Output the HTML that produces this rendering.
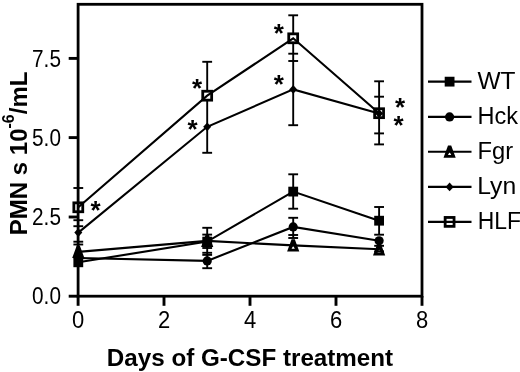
<!DOCTYPE html>
<html><head><meta charset="utf-8"><title>PMN counts during G-CSF treatment</title>
<style>html,body{margin:0;padding:0;background:#fff}svg{display:block;filter:grayscale(1)}</style></head>
<body>
<svg width="520" height="372" viewBox="0 0 520 372">
<rect x="0" y="0" width="520" height="372" fill="#fff"/>
<g id="err">
<line x1="73.4" y1="188" x2="83.2" y2="188" stroke="#000" stroke-width="1.9"/>
<line x1="73.4" y1="220.2" x2="83.2" y2="220.2" stroke="#000" stroke-width="1.9"/>
<line x1="73.4" y1="226.2" x2="83.2" y2="226.2" stroke="#000" stroke-width="1.9"/>
<line x1="73.4" y1="241.7" x2="83.2" y2="241.7" stroke="#000" stroke-width="1.9"/>
<line x1="73.4" y1="244.5" x2="83.2" y2="244.5" stroke="#000" stroke-width="1.9"/>
<line x1="207.2" y1="61.8" x2="207.2" y2="90.5" stroke="#000" stroke-width="1.9"/>
<line x1="207.2" y1="101" x2="207.2" y2="152.8" stroke="#000" stroke-width="1.9"/>
<line x1="202.3" y1="61.8" x2="212.1" y2="61.8" stroke="#000" stroke-width="1.9"/>
<line x1="202.3" y1="152.8" x2="212.1" y2="152.8" stroke="#000" stroke-width="1.9"/>
<line x1="207.2" y1="227.8" x2="207.2" y2="268.2" stroke="#000" stroke-width="1.9"/>
<line x1="202.3" y1="227.8" x2="212.1" y2="227.8" stroke="#000" stroke-width="1.9"/>
<line x1="202.3" y1="234.6" x2="212.1" y2="234.6" stroke="#000" stroke-width="1.9"/>
<line x1="202.3" y1="248" x2="212.1" y2="248" stroke="#000" stroke-width="1.9"/>
<line x1="202.3" y1="252.8" x2="212.1" y2="252.8" stroke="#000" stroke-width="1.9"/>
<line x1="202.3" y1="254.9" x2="212.1" y2="254.9" stroke="#000" stroke-width="1.9"/>
<line x1="202.3" y1="268.2" x2="212.1" y2="268.2" stroke="#000" stroke-width="1.9"/>
<line x1="293.2" y1="15.3" x2="293.2" y2="33" stroke="#000" stroke-width="1.9"/>
<line x1="293.2" y1="43.6" x2="293.2" y2="125.2" stroke="#000" stroke-width="1.9"/>
<line x1="288.3" y1="15.3" x2="298.1" y2="15.3" stroke="#000" stroke-width="1.9"/>
<line x1="288.3" y1="53.7" x2="298.1" y2="53.7" stroke="#000" stroke-width="1.9"/>
<line x1="288.3" y1="61" x2="298.1" y2="61" stroke="#000" stroke-width="1.9"/>
<line x1="288.3" y1="125.2" x2="298.1" y2="125.2" stroke="#000" stroke-width="1.9"/>
<line x1="293.2" y1="174.3" x2="293.2" y2="208.7" stroke="#000" stroke-width="1.9"/>
<line x1="293.2" y1="217.8" x2="293.2" y2="238.0" stroke="#000" stroke-width="1.9"/>
<line x1="288.3" y1="174.3" x2="298.1" y2="174.3" stroke="#000" stroke-width="1.9"/>
<line x1="288.3" y1="208.7" x2="298.1" y2="208.7" stroke="#000" stroke-width="1.9"/>
<line x1="288.3" y1="217.8" x2="298.1" y2="217.8" stroke="#000" stroke-width="1.9"/>
<line x1="288.3" y1="235.0" x2="298.1" y2="235.0" stroke="#000" stroke-width="1.9"/>
<line x1="288.3" y1="238.0" x2="298.1" y2="238.0" stroke="#000" stroke-width="1.9"/>
<line x1="379.1" y1="81.3" x2="379.1" y2="108" stroke="#000" stroke-width="1.9"/>
<line x1="379.1" y1="118.5" x2="379.1" y2="144.4" stroke="#000" stroke-width="1.9"/>
<line x1="374.2" y1="81.3" x2="384.0" y2="81.3" stroke="#000" stroke-width="1.9"/>
<line x1="374.2" y1="96.7" x2="384.0" y2="96.7" stroke="#000" stroke-width="1.9"/>
<line x1="374.2" y1="133.4" x2="384.0" y2="133.4" stroke="#000" stroke-width="1.9"/>
<line x1="374.2" y1="144.4" x2="384.0" y2="144.4" stroke="#000" stroke-width="1.9"/>
<line x1="379.1" y1="207" x2="379.1" y2="234.6" stroke="#000" stroke-width="1.9"/>
<line x1="374.2" y1="207" x2="384.0" y2="207" stroke="#000" stroke-width="1.9"/>
<line x1="374.2" y1="234.7" x2="384.0" y2="234.7" stroke="#000" stroke-width="1.9"/>
<line x1="374.2" y1="245.8" x2="384.0" y2="245.8" stroke="#000" stroke-width="1.9"/>
<line x1="374.2" y1="251.4" x2="384.0" y2="251.4" stroke="#000" stroke-width="1.9"/>
</g>
<g id="lines" fill="none" stroke="#000" stroke-width="2.1" stroke-linejoin="miter">
<polyline points="78.3,262.3 207.2,241.6 293.2,191.6 379.1,220.7"/>
<polyline points="78.3,258.0 207.2,260.9 293.2,226.9 379.1,240.8"/>
<polyline points="78.3,251.9 207.2,240.9 293.2,245.4 379.1,249.3"/>
<polyline points="78.3,232.6 207.2,126.8 293.2,89.4 379.1,113.5"/>
<polyline points="78.3,207.3 207.2,95.7 293.2,38.3 379.1,113.2"/>
</g>
<g id="markers">
<rect x="73.40" y="257.40" width="9.8" height="9.8" fill="#000"/>
<rect x="202.30" y="236.70" width="9.8" height="9.8" fill="#000"/>
<rect x="288.30" y="186.70" width="9.8" height="9.8" fill="#000"/>
<rect x="374.20" y="215.80" width="9.8" height="9.8" fill="#000"/>
<circle cx="78.3" cy="258.0" r="4.6" fill="#000"/>
<circle cx="207.2" cy="260.9" r="4.6" fill="#000"/>
<circle cx="293.2" cy="226.9" r="4.6" fill="#000"/>
<circle cx="379.1" cy="240.8" r="4.6" fill="#000"/>
<path fill-rule="evenodd" fill="#000" d="M76.70,245.80 L79.90,245.80 L84.40,258.00 L72.20,258.00 Z M78.30,252.30 L79.90,255.20 L76.70,255.20 Z"/>
<path fill-rule="evenodd" fill="#000" d="M205.60,234.80 L208.80,234.80 L213.30,247.00 L201.10,247.00 Z M207.20,241.30 L208.80,244.20 L205.60,244.20 Z"/>
<path fill-rule="evenodd" fill="#000" d="M291.60,239.30 L294.80,239.30 L299.30,251.50 L287.10,251.50 Z M293.20,245.80 L294.80,248.70 L291.60,248.70 Z"/>
<path fill-rule="evenodd" fill="#000" d="M377.50,243.20 L380.70,243.20 L385.20,255.40 L373.00,255.40 Z M379.10,249.70 L380.70,252.60 L377.50,252.60 Z"/>
<polygon points="78.3,228.2 82.3,232.6 78.3,237.0 74.3,232.6" fill="#000"/>
<polygon points="207.2,122.39999999999999 211.2,126.8 207.2,131.2 203.2,126.8" fill="#000"/>
<polygon points="293.2,85.0 297.2,89.4 293.2,93.80000000000001 289.2,89.4" fill="#000"/>
<polygon points="379.1,109.1 383.1,113.5 379.1,117.9 375.1,113.5" fill="#000"/>
<rect x="73.85" y="202.85" width="8.9" height="8.9" fill="none" stroke="#000" stroke-width="2.8"/>
<rect x="202.75" y="91.25" width="8.9" height="8.9" fill="none" stroke="#000" stroke-width="2.8"/>
<rect x="288.75" y="33.85" width="8.9" height="8.9" fill="none" stroke="#000" stroke-width="2.8"/>
<rect x="374.65" y="108.75" width="8.9" height="8.9" fill="none" stroke="#000" stroke-width="2.8"/>
</g>
<rect x="78.1" y="4.3" width="343.9" height="291.9" fill="none" stroke="#000" stroke-width="2.8"/>
<g stroke="#000" stroke-width="2.9">
<line x1="68.7" y1="58.4" x2="78" y2="58.4"/>
<line x1="68.7" y1="137.6" x2="78" y2="137.6"/>
<line x1="68.7" y1="217.0" x2="78" y2="217.0"/>
<line x1="68.7" y1="296.2" x2="78" y2="296.2"/>
<line x1="78.1" y1="296" x2="78.1" y2="305.8"/>
<line x1="164" y1="296" x2="164" y2="305.8"/>
<line x1="250" y1="296" x2="250" y2="305.8"/>
<line x1="336" y1="296" x2="336" y2="305.8"/>
<line x1="422" y1="296" x2="422" y2="305.8"/>
</g>
<g font-family="'Liberation Sans', Arial, sans-serif" font-size="22" fill="#000">
<text transform="translate(46.5,66.5) scale(0.945,1.06)" text-anchor="middle">7.5</text>
<text transform="translate(46.5,145.7) scale(0.945,1.06)" text-anchor="middle">5.0</text>
<text transform="translate(46.5,224.9) scale(0.945,1.06)" text-anchor="middle">2.5</text>
<text transform="translate(46.5,304.3) scale(0.945,1.06)" text-anchor="middle">0.0</text>
<text transform="translate(78.1,328) scale(1,1.10)" text-anchor="middle">0</text>
<text transform="translate(164,328) scale(1,1.10)" text-anchor="middle">2</text>
<text transform="translate(250,328) scale(1,1.10)" text-anchor="middle">4</text>
<text transform="translate(336,328) scale(1,1.10)" text-anchor="middle">6</text>
<text transform="translate(422,328) scale(1,1.10)" text-anchor="middle">8</text>
</g>
<text x="250" y="365.6" text-anchor="middle" font-family="'Liberation Sans', Arial, sans-serif" font-weight="bold" font-size="24.2" fill="#000">Days of G-CSF treatment</text>
<text transform="translate(26.8,235.2) rotate(-90)" font-family="'Liberation Sans', Arial, sans-serif" font-weight="bold" font-size="24" fill="#000">PMN s 10<tspan font-size="16" dy="-13">-6</tspan><tspan dy="13">/mL</tspan></text>
<g font-family="'Liberation Sans', Arial, sans-serif" font-weight="bold" font-size="26" fill="#000" text-anchor="middle">
<text x="95.5" y="219.1">*</text>
<text x="197" y="96.6">*</text>
<text x="192.5" y="138.2">*</text>
<text x="278.8" y="41.8">*</text>
<text x="278.8" y="92.6">*</text>
<text x="400.1" y="115.6">*</text>
<text x="398.5" y="133.6">*</text>
</g>
<g id="legend">
<line x1="428" y1="81.65" x2="471.5" y2="81.65" stroke="#000" stroke-width="2.1"/>
<rect x="444.70" y="76.75" width="9.8" height="9.8" fill="#000"/>
<text transform="translate(477.4,89.0) scale(1.02,1)" font-family="'Liberation Sans', Arial, sans-serif" font-size="24" fill="#000">WT</text>
<line x1="428" y1="116.9" x2="471.5" y2="116.9" stroke="#000" stroke-width="2.1"/>
<circle cx="449.6" cy="116.9" r="4.6" fill="#000"/>
<text transform="translate(477.5,124.2) scale(0.98,1)" font-family="'Liberation Sans', Arial, sans-serif" font-size="24" fill="#000">Hck</text>
<line x1="428" y1="151.7" x2="471.5" y2="151.7" stroke="#000" stroke-width="2.1"/>
<path fill-rule="evenodd" fill="#000" d="M448.00,145.60 L451.20,145.60 L455.70,157.80 L443.50,157.80 Z M449.60,152.10 L451.20,155.00 L448.00,155.00 Z"/>
<text transform="translate(477.5,159.0) scale(0.99,1)" font-family="'Liberation Sans', Arial, sans-serif" font-size="24" fill="#000">Fgr</text>
<line x1="428" y1="186.9" x2="471.5" y2="186.9" stroke="#000" stroke-width="2.1"/>
<polygon points="449.6,182.5 453.6,186.9 449.6,191.3 445.6,186.9" fill="#000"/>
<text transform="translate(477.2,194.2) scale(1.03,1)" font-family="'Liberation Sans', Arial, sans-serif" font-size="24" fill="#000">Lyn</text>
<line x1="428" y1="221.9" x2="471.5" y2="221.9" stroke="#000" stroke-width="2.1"/>
<rect x="445.15" y="217.45" width="8.9" height="8.9" fill="none" stroke="#000" stroke-width="2.8"/>
<text transform="translate(477.7,229.2) scale(0.955,1)" font-family="'Liberation Sans', Arial, sans-serif" font-size="24" fill="#000">HLF</text>
</g>
</svg>
</body></html>
